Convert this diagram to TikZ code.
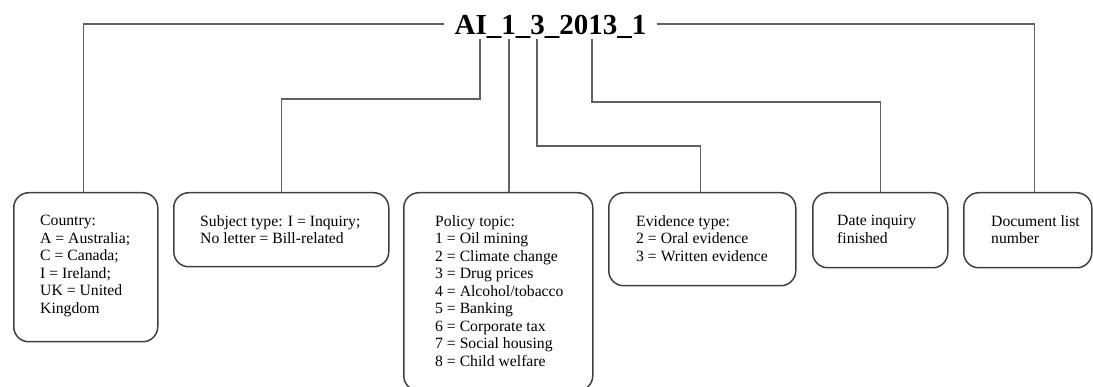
\documentclass[tikz,border=0pt]{standalone}
\usepackage{fontspec}
\setmainfont{Liberation Serif}
\usetikzlibrary{positioning, calc}

\begin{document}
\begin{tikzpicture}[x=1pt, y=-1pt,
    box/.style={draw=black!75, line width=1.5pt, rounded corners=15pt, anchor=north west},
    txt/.style={anchor=north west, inner sep=0pt, align=left, font=\fontsize{15.7}{17.5}\selectfont},
    link/.style={draw=black!62, line width=1.1pt}]
      \useasboundingbox (0, 0) rectangle (1093, 387);

      % the code
      \node[font=\fontsize{29}{30}\selectfont\bfseries, inner xsep=10pt, inner ysep=4pt,
        text height=22pt, text depth=0pt] (code) at (550.5, 24) {AI\_1\_3\_2013\_1};

      % the boxes
      \node[box, minimum width=144pt, minimum height=149pt] (country) at (13, 192) {};
      \node[box, minimum width=215pt, minimum height=74pt] (subj) at (173, 192) {};
      \node[box, minimum width=189pt, minimum height=198pt] (policy) at (403, 192) {};
      \node[box, minimum width=187pt, minimum height=93pt] (evid) at (608, 192) {};
      \node[box, minimum width=135pt, minimum height=75pt] (date) at (812, 192) {};
      \node[box, minimum width=128pt, minimum height=75pt] (doc) at (963, 192) {};

      % their texts
      \node[txt] (country-t) at ([shift={(27, 23)}]country.north west)
        {Country:\\A = Australia;\\C = Canada;\\I = Ireland;\\UK = United\\Kingdom};
      \node[txt] (subj-t) at ([shift={(27, 23)}]subj.north west)
        {Subject type: I = Inquiry;\\No letter = Bill-related};
      \node[txt] (policy-t) at ([shift={(32, 23)}]policy.north west)
        {Policy topic:\\1 = Oil mining\\2 = Climate change\\3 = Drug prices\\4 = Alcohol/tobacco\\5 = Banking\\6 = Corporate tax\\7 = Social housing\\8 = Child welfare};
      \node[txt] (evid-t) at ([shift={(28, 23)}]evid.north west)
        {Evidence type:\\2 = Oral evidence\\3 = Written evidence};
      \node[txt] (date-t) at ([shift={(25, 23)}]date.north west)
        {Date inquiry\\finished};
      \node[txt] (doc-t) at ([shift={(28, 23)}]doc.north west)
        {Document list\\number};

      % points under the code
      \coordinate (tI) at (480, 39);
      \coordinate (tP) at (509, 39);
      \coordinate (tE) at (537, 39);
      \coordinate (tD) at (592, 39);

      % connectors
      \draw[link] (code.west) -| ([xshift=-2pt]country.north);
      \draw[link] (tI) -- (tI |- 0, 99) -| (subj.north);
      \draw[link] (tP) -- (tP |- policy.north);
      \draw[link] (tE) -- (tE |- 0, 146) -| ([xshift=-2pt]evid.north);
      \draw[link] (tD) -- (tD |- 0, 102) -| (date.north);
      \draw[link] (code.east) -| ([xshift=7pt]doc.north);

    \end{tikzpicture}
\end{document}
